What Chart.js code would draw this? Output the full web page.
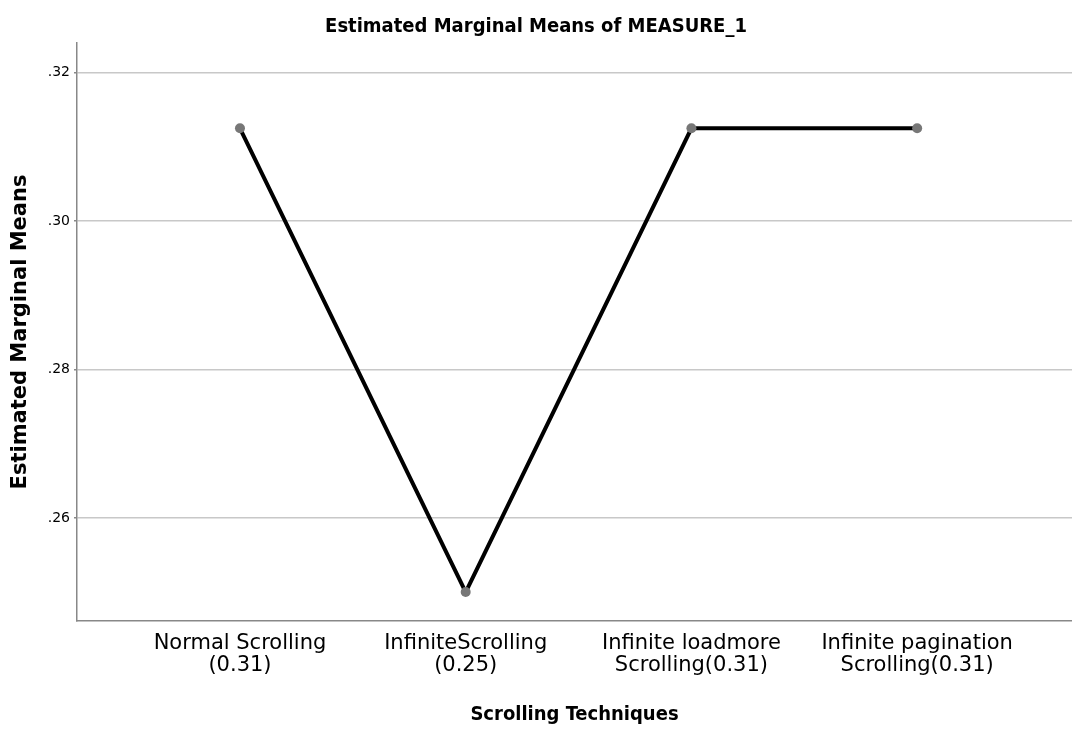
<!DOCTYPE html>
<html>
<head>
<meta charset="utf-8">
<script src="https://cdn.jsdelivr.net/npm/chart.js@4/dist/chart.umd.min.js"></script>
<style>
  html, body { margin: 0; padding: 0; background: #fff; }
  #wrap { width: 1072px; height: 729px; }
</style>
</head>
<body>
<div id="wrap"><canvas id="myChart" width="1072" height="729"></canvas></div>
<script>
const techniques = [
  ['Normal Scrolling', '(0.31)'],
  ['InfiniteScrolling', '(0.25)'],
  ['Infinite loadmore', 'Scrolling(0.31)'],
  ['Infinite pagination', 'Scrolling(0.31)']
];
const means = [0.3125, 0.25, 0.3125, 0.3125];
const yTicks = [0.26, 0.28, 0.30, 0.32];

const ctx = document.getElementById('myChart');
const myChart = new Chart(ctx, {
  type: 'line',
  data: {
    datasets: [{
      data: means.map((v, i) => ({ x: i, y: v })),
      borderColor: '#000',
      borderWidth: 4,
      pointRadius: 5,
      pointBackgroundColor: '#777',
      pointBorderWidth: 0,
      tension: 0
    }]
  },
  options: {
    responsive: false,
    animation: false,
    layout: { padding: 0, autoPadding: false },
    plugins: {
      legend: { display: false },
      tooltip: { enabled: false },
      title: {
        display: true,
        text: 'Estimated Marginal Means of MEASURE_1',
        color: '#000',
        font: { family: 'DejaVu Sans Condensed', size: 20, weight: 'bold', lineHeight: 1.2 },
        padding: { top: 15, bottom: 4 }
      }
    },
    scales: {
      x: {
        type: 'linear',
        min: -0.722,
        max: 3.686,
        afterBuildTicks: (scale) => {
          scale.ticks = techniques.map((_, i) => ({ value: i }));
        },
        afterFit: (scale) => { scale.height = 108; },
        ticks: {
          color: '#000',
          autoSkip: false,
          maxRotation: 0,
          padding: 12,
          font: { family: 'DejaVu Sans', size: 21, lineHeight: 1.02 },
          callback: (value) => techniques[value]
        },
        grid: { display: false, drawTicks: false },
        border: { display: true, color: '#888', width: 1.5 },
        title: {
          display: true,
          text: 'Scrolling Techniques',
          color: '#000',
          font: { family: 'DejaVu Sans Condensed', size: 20, weight: 'bold', lineHeight: 1.2 },
          padding: { top: 4, bottom: 2 }
        }
      },
      y: {
        min: 0.2461,
        max: 0.3240,
        afterBuildTicks: (scale) => {
          scale.ticks = yTicks.map(v => ({ value: v }));
        },
        afterFit: (scale) => { scale.width = 77; },
        ticks: {
          color: '#000',
          padding: 4,
          font: { family: 'DejaVu Sans', size: 14 },
          callback: (value) => value.toFixed(2).replace(/^0/, '')
        },
        grid: { color: '#c8c8c8', lineWidth: 1.5, drawTicks: true, tickLength: 3, tickColor: '#888' },
        border: { display: true, color: '#888', width: 1.5 },
        title: {
          display: true,
          text: 'Estimated Marginal Means',
          color: '#000',
          font: { family: 'DejaVu Sans', size: 21, weight: 'bold', lineHeight: 1.2 },
          padding: { top: 8, bottom: 4 }
        }
      }
    }
  }
});
</script>
</body>
</html>
